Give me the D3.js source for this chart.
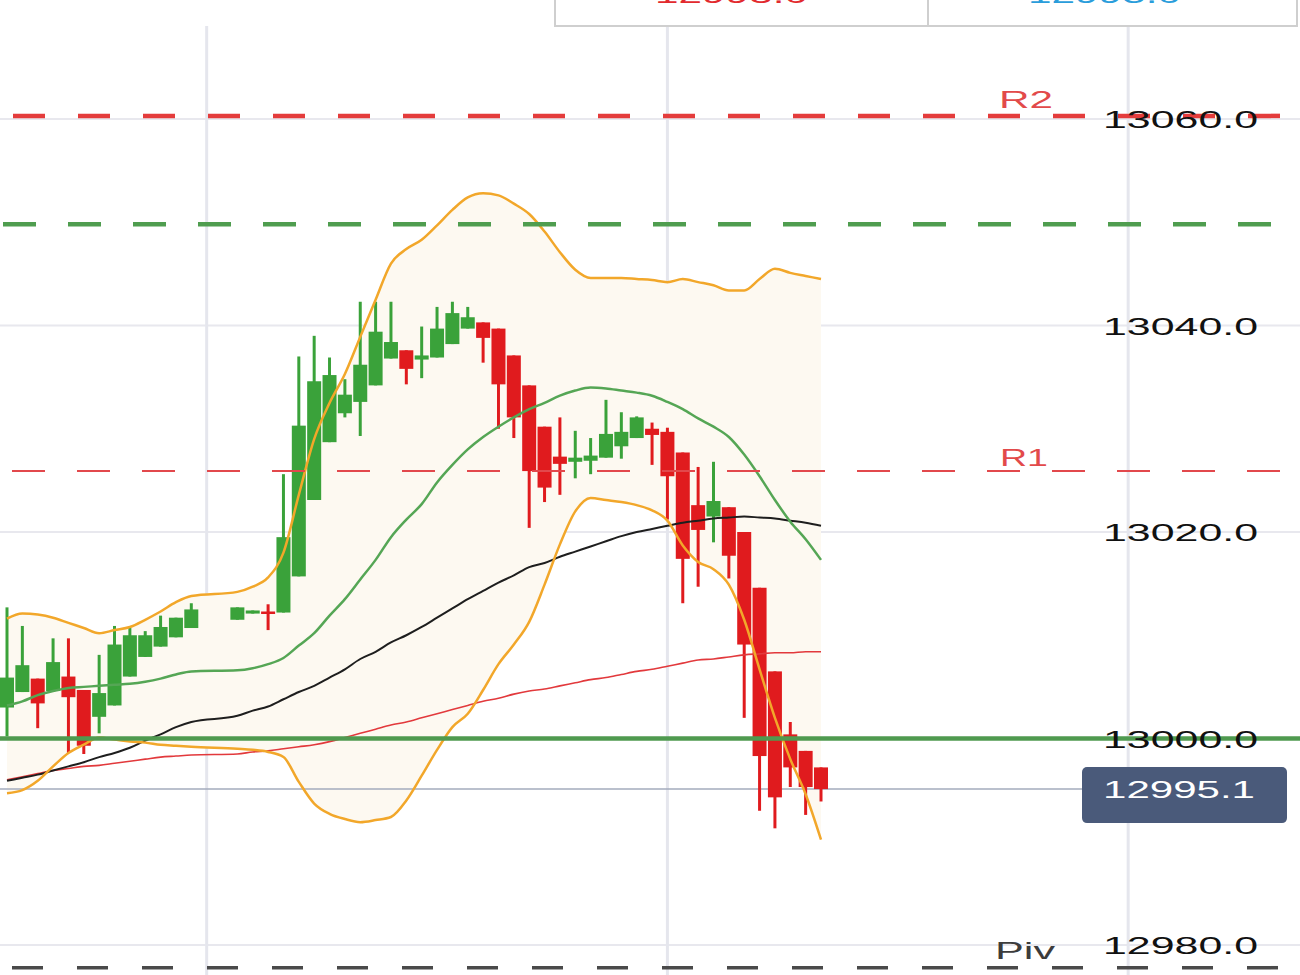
<!DOCTYPE html>
<html><head><meta charset="utf-8">
<script src="https://cdn.jsdelivr.net/npm/d3@7/dist/d3.min.js"></script>
<style>html,body{margin:0;padding:0;background:#fff;overflow:hidden}svg{display:block}</style>
</head><body><svg id="c" width="1300" height="975"></svg>
<script>
// ---- data ----
const idx   = [0,1,2,3,4,5,6,7,8,9,10,11,12,15,16,17,18,19,20,21,22,23,24,25,26,27,28,29,30,31,32,33,34,35,36,37,38,39,40,41,42,43,44,45,46,47,48,49,50,51,52,53];
const open  = [13003.0,13004.5,13005.8,13004.6,13006.0,13004.7,13002.1,13003.2,13006.0,13007.9,13008.9,13009.8,13010.7,13011.5,13012.1,13012.3,13012.2,13015.7,13023.1,13028.7,13031.5,13032.6,13034.2,13036.8,13037.6,13036.7,13036.9,13038.2,13039.7,13040.3,13039.7,13037.1,13034.2,13030.2,13027.3,13026.8,13026.9,13027.2,13028.3,13029.1,13030.0,13029.7,13027.7,13022.6,13021.5,13022.4,13020.0,13014.6,13006.5,13000.4,12998.8,12997.2];
const high  = [13012.7,13010.9,13005.8,13009.7,13009.7,13004.7,13008.1,13010.9,13010.7,13010.4,13011.9,13011.7,13013.1,13012.7,13012.4,13013.0,13025.6,13037.0,13039.0,13036.9,13034.8,13042.3,13042.3,13042.3,13037.6,13039.9,13041.8,13042.3,13041.8,13040.3,13039.7,13037.1,13034.2,13030.2,13031.1,13029.8,13029.1,13032.8,13031.6,13031.2,13030.6,13030.1,13027.7,13026.3,13026.8,13022.4,13020.0,13014.6,13006.5,13001.6,12998.8,12997.2];
const low   = [13000.2,13004.5,13001.0,13004.6,12998.6,12998.5,13000.5,13003.2,13006.0,13007.9,13008.9,13009.8,13010.7,13011.5,13012.1,13010.5,13012.2,13015.7,13023.1,13028.7,13031.1,13029.3,13034.2,13036.8,13034.3,13034.9,13036.9,13038.2,13039.7,13036.4,13030.0,13029.1,13020.4,13022.9,13023.6,13025.2,13025.6,13027.2,13027.1,13029.1,13026.5,13021.2,13013.1,13014.7,13019.0,13015.5,13002.0,12993.0,12991.3,12995.3,12992.6,12993.9];
const close = [13005.9,13007.1,13003.4,13007.4,13004.0,12999.3,13004.4,13009.1,13010.0,13010.0,13010.8,13011.7,13012.5,13012.7,13012.4,13012.2,13019.5,13030.3,13034.6,13035.2,13033.3,13036.2,13039.4,13038.4,13035.8,13037.1,13039.7,13041.2,13040.8,13038.8,13034.3,13031.1,13025.9,13024.3,13026.6,13027.2,13027.4,13029.5,13029.7,13031.1,13029.4,13025.4,13017.4,13020.2,13023.0,13017.7,13009.1,12998.3,12994.3,12997.2,12995.3,12995.1];
const bbUpper = [13011.6,13012.1,13012.0,13011.7,13011.2,13010.7,13010.2,13010.5,13010.8,13011.5,13012.3,13013.2,13013.8,13014.2,13014.7,13015.6,13018.0,13023.6,13029.0,13032.5,13035.3,13038.9,13042.5,13046.0,13047.4,13048.3,13049.7,13051.2,13052.4,13052.8,13052.6,13051.8,13050.8,13049.1,13047.1,13045.4,13044.6,13044.6,13044.6,13044.5,13044.4,13044.2,13044.5,13044.2,13043.9,13043.4,13043.4,13044.5,13045.5,13045.1,13044.8,13044.5];
const bbLower = [12994.7,12995.0,12995.9,12997.3,12998.6,12999.4,13000.1,12999.9,12999.7,12999.6,12999.4,12999.3,12999.2,12999.0,12998.9,12998.7,12998.2,12995.8,12993.7,12992.7,12992.2,12991.9,12992.1,12992.4,12994.0,12996.4,12998.9,13001.1,13002.4,13004.7,13007.2,13009.1,13011.3,13014.9,13018.8,13022.0,13023.3,13023.1,13022.9,13022.6,13022.1,13021.1,13018.7,13017.1,13016.4,13014.9,13011.5,13006.7,13002.0,12998.0,12994.6,12990.2];
const bbMid   = [13003.2,13003.6,13004.2,13004.6,13004.9,13005.0,13005.1,13005.2,13005.3,13005.5,13005.8,13006.2,13006.5,13006.6,13006.8,13007.2,13007.8,13009.0,13010.2,13011.9,13013.5,13015.4,13017.3,13019.5,13021.2,13022.7,13024.8,13026.5,13028.0,13029.2,13030.2,13031.1,13031.9,13032.5,13033.2,13033.7,13034.0,13033.9,13033.7,13033.5,13033.2,13032.6,13031.9,13031.0,13030.2,13029.2,13027.5,13025.4,13023.1,13021.0,13019.3,13017.3];
const maBlack = [12995.9,12996.2,12996.5,12996.9,12997.3,12997.7,12998.2,12998.6,12999.1,12999.8,13000.4,13001.1,13001.6,13002.2,13002.7,13003.1,13003.8,13004.5,13005.1,13005.9,13006.7,13007.7,13008.4,13009.3,13010.0,13010.8,13011.7,13012.6,13013.5,13014.3,13015.1,13015.8,13016.6,13017.0,13017.6,13018.1,13018.6,13019.1,13019.6,13020.0,13020.3,13020.6,13020.9,13021.1,13021.3,13021.4,13021.5,13021.4,13021.3,13021.1,13020.9,13020.6];
const maRed   = [12996.0,12996.3,12996.6,12996.9,12997.1,12997.3,12997.4,12997.6,12997.8,12998.0,12998.2,12998.3,12998.4,12998.5,12998.7,12998.8,12999.0,12999.2,12999.4,12999.7,13000.1,13000.5,13000.9,13001.3,13001.6,13002.0,13002.4,13002.8,13003.2,13003.6,13003.9,13004.3,13004.6,13004.8,13005.1,13005.4,13005.7,13005.9,13006.2,13006.5,13006.7,13007.0,13007.3,13007.6,13007.7,13007.9,13008.1,13008.2,13008.3,13008.3,13008.4,13008.4];
const yTicks = [12980,13000,13020,13040,13060];
const timeGrid = [13,43,73];
const lvlR2 = 13060.3, lvlGreenDash = 13049.8, lvlR1 = 13025.9, lvlSupport = 13000.0, lvlPiv = 12977.8;
const lastPrice = 12995.1;
const topQuotes = ["12993.0","12995.0"];

// ---- scales ----
const x = d3.scaleLinear().domain([0,53]).range([7,821]);
const y = d3.scaleLinear().domain([12980,13060]).range([945,119]);
const svg = d3.select("#c");
const FONT = "'Liberation Sans', Arial, Helvetica, sans-serif";

const rows = idx.map((k,i)=>({k, o:open[i], h:high[i], l:low[i], c:close[i],
  up:bbUpper[i], lo:bbLower[i], mid:bbMid[i], blk:maBlack[i], red:maRed[i]}));

// grid
svg.append("g").selectAll("line").data(yTicks).join("line")
  .attr("x1",0).attr("x2",1300).attr("y1",d=>y(d)).attr("y2",d=>y(d))
  .attr("stroke","#e8e8ee").attr("stroke-width",2);
svg.append("g").selectAll("line").data(timeGrid).join("line")
  .attr("x1",d=>x(d)).attr("x2",d=>x(d)).attr("y1",26).attr("y2",975)
  .attr("stroke","#e5e6ed").attr("stroke-width",3);

// band fill
svg.append("path").datum(rows)
  .attr("d", d3.area().x(d=>x(d.k)).y0(d=>y(d.lo)).y1(d=>y(d.up)))
  .attr("fill","#fdf9f1");

// last price line
svg.append("line").attr("x1",0).attr("x2",1082).attr("y1",y(lastPrice)).attr("y2",y(lastPrice))
  .attr("stroke","#a3abbd").attr("stroke-width",1.5);

// candles
const GREEN="#3aa23a", RED="#e01b1e";
const cg = svg.append("g");
cg.selectAll("line").data(rows).join("line")
  .attr("x1",d=>x(d.k)).attr("x2",d=>x(d.k)).attr("y1",d=>y(d.h)).attr("y2",d=>y(d.l))
  .attr("stroke",d=>d.c>=d.o?GREEN:RED).attr("stroke-width",3);
cg.selectAll("rect").data(rows).join("rect")
  .attr("x",d=>x(d.k)-7).attr("width",14)
  .attr("y",d=>y(Math.max(d.o,d.c)))
  .attr("height",d=>Math.max(2.5, Math.abs(y(d.o)-y(d.c))))
  .attr("fill",d=>d.c>=d.o?GREEN:RED);

// indicator lines
const ln = key => d3.line().x(d=>x(d.k)).y(d=>y(d[key])).curve(d3.curveMonotoneX);
svg.append("path").datum(rows).attr("d",ln("red")).attr("fill","none").attr("stroke","#e2393c").attr("stroke-width",1.6);
svg.append("path").datum(rows).attr("d",ln("blk")).attr("fill","none").attr("stroke","#1e1e1e").attr("stroke-width",2);
svg.append("path").datum(rows).attr("d",ln("mid")).attr("fill","none").attr("stroke","#55a655").attr("stroke-width",2.5);
svg.append("path").datum(rows).attr("d",ln("up")).attr("fill","none").attr("stroke","#f2a72a").attr("stroke-width",2.5);
svg.append("path").datum(rows).attr("d",ln("lo")).attr("fill","none").attr("stroke","#f2a72a").attr("stroke-width",2.5);

// levels
function hline(v,x1,x2,color,w,dash){
  svg.append("line").attr("x1",x1).attr("x2",x2).attr("y1",y(v)).attr("y2",y(v))
    .attr("stroke",color).attr("stroke-width",w).attr("stroke-dasharray",dash||null);
}
hline(lvlR2,13,1280,"#e43c3c",4.5,"32 33");
hline(lvlGreenDash,3,1272,"#4f9d4f",4.5,"33 32");
hline(lvlR1,12,1280,"#e2484c",2,"33 32");
hline(lvlSupport,0,1300,"#4f9a4f",4.5,null);
hline(lvlPiv,12,1280,"#4a4a4a",3.5,"31 34");

function txt(s,xx,yy,color,len,base){
  return svg.append("text").attr("x",xx).attr("y",yy).text(s)
    .attr("font-family",FONT).attr("font-size",24).attr("fill",color)
    .attr("dominant-baseline",base||"alphabetic")
    .attr("textLength",len).attr("lengthAdjust","spacingAndGlyphs");
}
txt("R2",999,108,"#e24a4a",54);
txt("R1",1000,466,"#e24a4a",48);
txt("Piv",995,959,"#3c3c3c",60);

// y tick labels
svg.append("g").selectAll("text").data(yTicks).join("text")
  .attr("x",1103).attr("y",d=>y(d)+9).text(d=>d3.format(".1f")(d))
  .attr("font-family",FONT).attr("font-size",24).attr("fill","#111")
  .attr("textLength",155).attr("lengthAdjust","spacingAndGlyphs");

// price badge
svg.append("rect").attr("x",1082).attr("y",y(lastPrice)-22).attr("width",205).attr("height",56)
  .attr("rx",5).attr("fill","#4a5a7a");
txt(d3.format(".1f")(lastPrice),1103,y(lastPrice)+9,"#ffffff",152);

// top quote boxes (cut off at the top edge, as in the reference)
svg.append("rect").attr("x",555).attr("y",-10).attr("width",373).attr("height",36)
  .attr("fill","#fff").attr("stroke","#cfcfcf").attr("stroke-width",2);
svg.append("rect").attr("x",928).attr("y",-10).attr("width",369).attr("height",36)
  .attr("fill","#fff").attr("stroke","#cfcfcf").attr("stroke-width",2);
txt(topQuotes[0],655,3,"#e22a2e",153);
txt(topQuotes[1],1028,3,"#2a9ddb",153);
</script></body></html>
